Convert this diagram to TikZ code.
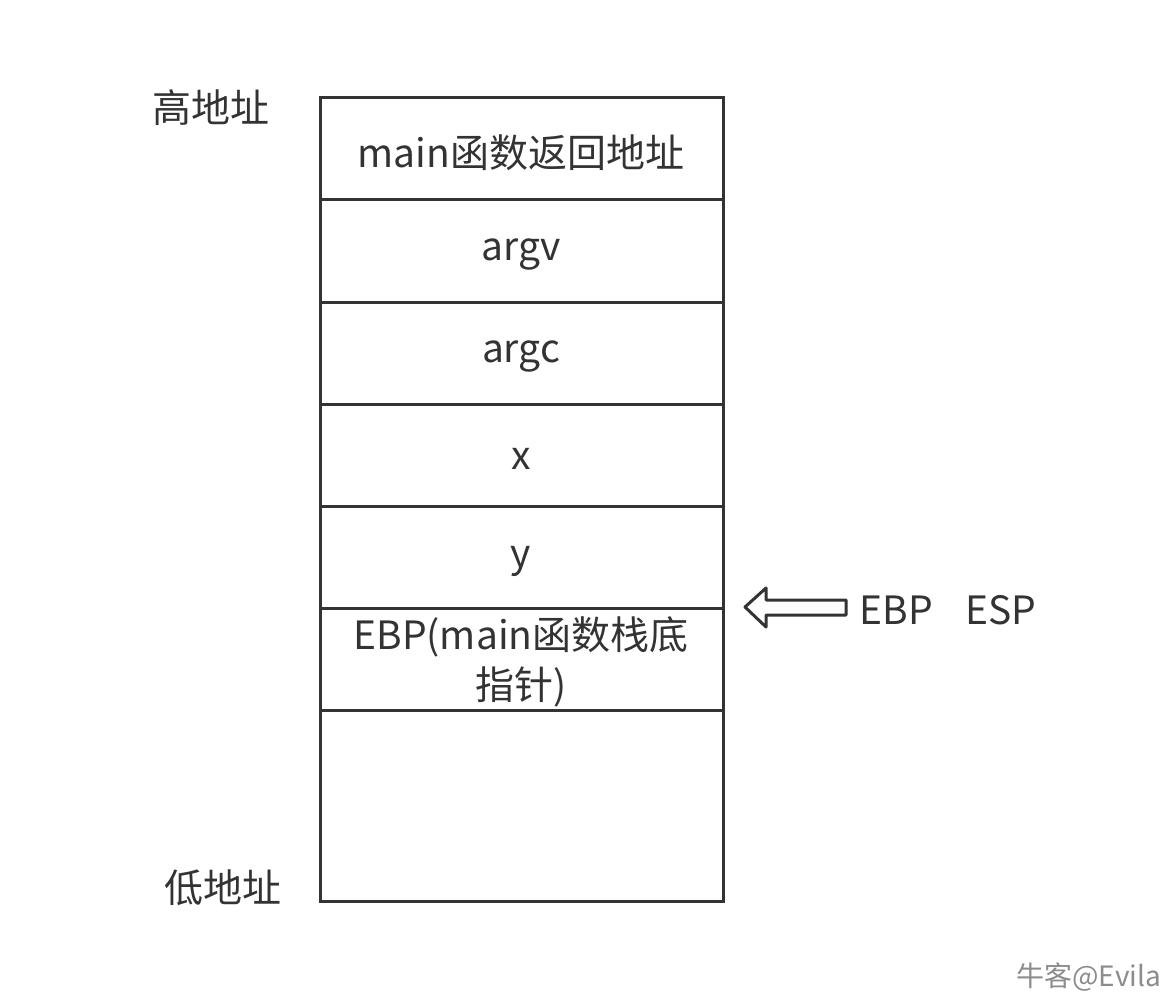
\documentclass[tikz,border=0pt]{standalone}
\usepackage{fontspec}
\setmainfont{Noto Sans CJK SC}
\definecolor{ink}{HTML}{333333}
\begin{document}
\begin{tikzpicture}[x=1pt,y=-1pt,line width=3pt,draw=ink,
  every node/.style={text=ink,font=\fontsize{39}{50}\selectfont}]
\useasboundingbox (0,0) rectangle (1174,1000);
%Nhan dia chi
\node (hi) at (211,108) {高地址};
\node (lo) at (223,888) {低地址};
%O 1
\draw[ink] (320,98) rectangle (723,200);
\node (ret) at (521,153) {main函数返回地址};
%O 2
\draw[ink] (320,200) rectangle (723,302);
\node (argv) at (521,255) {argv};
%O 3
\draw[ink] (320,302) rectangle (723,404);
\node (argc) at (521,357) {argc};
%O 4
\draw[ink] (320,404) rectangle (723,506);
\node (x) at (521,459) {x};
%O 5
\draw[ink] (320,506) rectangle (723,608);
\node (y) at (521,561) {y};
%O 6
\draw[ink] (320,608) rectangle (723,710);
\node[align=center] (ebp) at (521,662) {EBP(main函数栈底\\指针)};
%O 7
\draw[ink] (320,710) rectangle (723,901);
%Mui ten
\draw[ink,line join=round] (745,607) -- (766,588) -- (766,600) -- (846,600)
  -- (846,615) -- (766,615) -- (766,627) -- cycle;
\node[anchor=west] (reg) at (855,610) {EBP\hspace{32pt}ESP};
%Watermark
\node[anchor=east,text=black!45,font=\fontsize{28}{30}\selectfont] (wm) at (1166,977) {牛客@Evila};
\end{tikzpicture}
\end{document}
